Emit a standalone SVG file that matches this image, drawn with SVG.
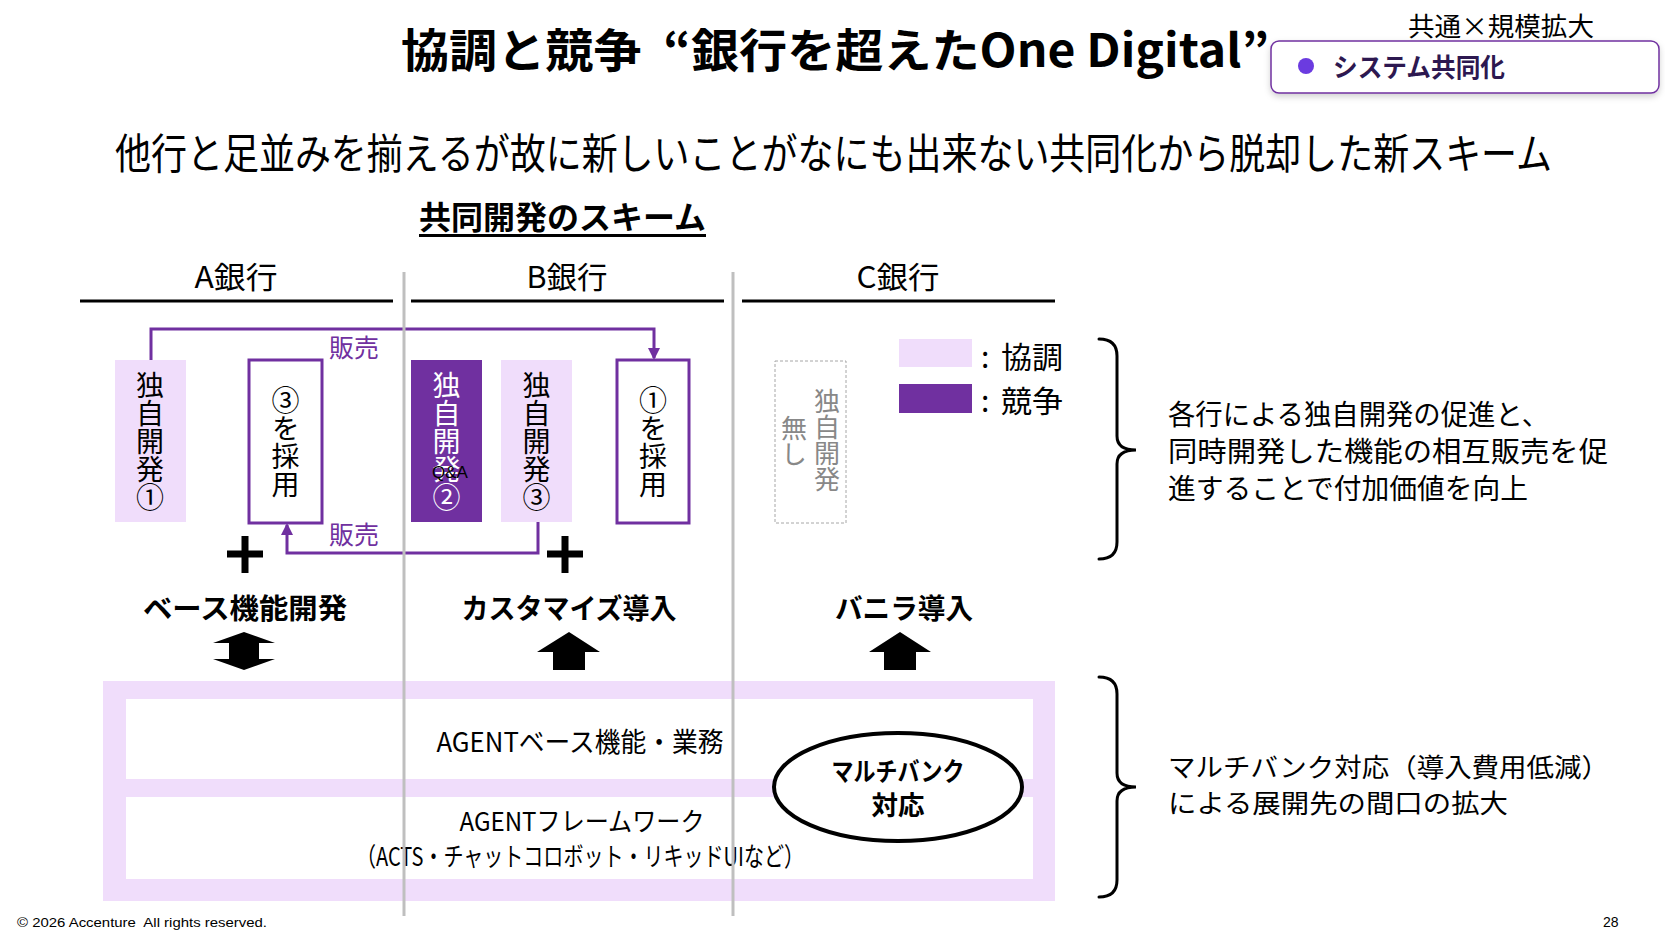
<svg xmlns="http://www.w3.org/2000/svg" width="1665" height="930" viewBox="0 0 1665 930">
<style>
.jp{font-family:"Noto Sans CJK JP","Noto Sans",sans-serif;fill:#000}
.b{font-weight:700}
.c{text-anchor:middle}
.v{writing-mode:vertical-rl;text-anchor:middle;font-size:28px}
.lav{fill:#F0DDFB}
.pur{fill:#7030A0}
.conn{fill:none;stroke:#7030A0;stroke-width:3}
.hdr{stroke:#000;stroke-width:3}
.sep{stroke:#BFBFBF;stroke-width:3}
.brace{fill:none;stroke:#000;stroke-width:3;stroke-linecap:round}
.plus{stroke:#000;stroke-width:7}
</style>
<defs>
<marker id="ah" markerUnits="userSpaceOnUse" markerWidth="12" markerHeight="12" viewBox="0 0 12 12" refX="10" refY="6" orient="auto">
<path d="M0,0 L12,6 L0,12 Z" fill="#7030A0"/>
</marker>
<filter id="sh" x="-5%" y="-20%" width="110%" height="150%">
<feDropShadow dx="0" dy="3" stdDeviation="3" flood-color="#000" flood-opacity="0.18"/>
</filter>
</defs>
<rect width="1665" height="930" fill="#fff"/>

<g id="title">
<text class="jp b" x="401" y="67" font-size="46" textLength="868" lengthAdjust="spacingAndGlyphs">協調と競争&#160; “銀行を超えたOne Digital”</text>
</g>
<g id="tag">
<text class="jp" x="1408" y="36" font-size="26" textLength="186" lengthAdjust="spacingAndGlyphs">共通×規模拡大</text>
<rect x="1271" y="41" width="388" height="52" rx="8" fill="#fff" stroke="#7030A0" stroke-width="1.5" filter="url(#sh)"/>
<circle cx="1306" cy="66" r="8" fill="#6B3BE0"/>
<text class="jp b" x="1333" y="77" font-size="26" textLength="172" lengthAdjust="spacingAndGlyphs" style="fill:#2D1850">システム共同化</text>
</g>
<g id="subtitle">
<g transform="translate(0,169) scale(1,1.2)">
<text class="jp" x="115" y="0" font-size="35" textLength="1437" lengthAdjust="spacingAndGlyphs">他行と足並みを揃えるが故に新しいことがなにも出来ない共同化から脱却した新スキーム</text>
</g>
<text class="jp b" x="419" y="229" font-size="32" textLength="287" lengthAdjust="spacingAndGlyphs">共同開発のスキーム</text>
<rect x="419" y="234" width="287" height="3" fill="#000"/>
</g>

<g id="headers">
<text class="jp c" x="236" y="288" font-size="30" textLength="83" lengthAdjust="spacingAndGlyphs">A銀行</text>
<text class="jp c" x="567" y="288" font-size="30" textLength="81" lengthAdjust="spacingAndGlyphs">B銀行</text>
<text class="jp c" x="898" y="288" font-size="30" textLength="83" lengthAdjust="spacingAndGlyphs">C銀行</text>
<line class="hdr" x1="80" y1="301" x2="393" y2="301"/>
<line class="hdr" x1="411" y1="301" x2="724" y2="301"/>
<line class="hdr" x1="742" y1="301" x2="1055" y2="301"/>
</g>

<g id="a-dev1">
<rect class="lav" x="115" y="360" width="71" height="162"/>
<text class="jp v" x="150" y="441">独自開発①</text>
</g>
<g id="a-adopt3">
<rect x="249" y="360" width="73" height="163" fill="#fff" stroke="#7030A0" stroke-width="3"/>
<text class="jp v" x="285.5" y="442">③を採用</text>
</g>
<g id="b-dev2">
<rect class="pur" x="411" y="360" width="71" height="162"/>
<text class="jp v" x="446.5" y="441" style="fill:#fff">独自開発②</text>
<text x="450" y="478" font-family="Liberation Sans, Arial, sans-serif" font-size="17" text-anchor="middle" fill="#000">Q&amp;A</text>
</g>
<g id="b-dev3">
<rect class="lav" x="501" y="360" width="71" height="162"/>
<text class="jp v" x="536.5" y="441">独自開発③</text>
</g>
<g id="b-adopt1">
<rect x="617" y="360" width="72" height="163" fill="#fff" stroke="#7030A0" stroke-width="3"/>
<text class="jp v" x="653" y="442">①を採用</text>
</g>
<g id="c-none">
<rect x="775" y="361" width="71" height="162" fill="none" stroke="#A6A6A6" stroke-width="1" stroke-dasharray="3,2"/>
<text class="jp v" x="827" y="440" style="fill:#888;font-size:26px">独自開発</text>
<text class="jp v" x="794" y="441" style="fill:#888;font-size:26px">無し</text>
</g>

<g id="legend">
<rect class="lav" x="899" y="339" width="73" height="28"/>
<rect class="pur" x="899" y="384" width="73" height="29"/>
<text class="jp" x="981" y="368" font-size="30">:</text>
<text class="jp" x="1001" y="368" font-size="30" textLength="62" lengthAdjust="spacingAndGlyphs">協調</text>
<text class="jp" x="981" y="412" font-size="30">:</text>
<text class="jp" x="1001" y="412" font-size="30" textLength="62" lengthAdjust="spacingAndGlyphs">競争</text>
</g>

<g id="connectors">
<path class="conn" d="M151,360 V329 H654 V358" marker-end="url(#ah)"/>
<path class="conn" d="M538,522 V553 H287 V525" marker-end="url(#ah)"/>
<text class="jp c" x="354" y="357" font-size="25" style="fill:#7030A0">販売</text>
<text class="jp c" x="354" y="544" font-size="25" style="fill:#7030A0">販売</text>
<path class="plus" d="M227,554 H263 M245,536 V573"/>
<path class="plus" d="M547,554 H583 M565,536 V573"/>
<path d="M244,632 L275,643 L259,643 L259,659 L275,659 L244,670 L213,659 L229,659 L229,643 L213,643 Z" fill="#000"/>
<path d="M569,632 L600,652 L585,652 L585,670 L553,670 L553,652 L537,652 Z" fill="#000"/>
<path d="M900,632 L931,652 L916,652 L916,670 L884,670 L884,652 L869,652 Z" fill="#000"/>
</g>

<g id="labels">
<text class="jp b c" x="245" y="619" font-size="28" textLength="204" lengthAdjust="spacingAndGlyphs">ベース機能開発</text>
<text class="jp b c" x="569" y="619" font-size="28" textLength="215" lengthAdjust="spacingAndGlyphs">カスタマイズ導入</text>
<text class="jp b c" x="904" y="619" font-size="28" textLength="138" lengthAdjust="spacingAndGlyphs">バニラ導入</text>
</g>

<g id="platform">
<rect class="lav" x="103" y="681" width="952" height="220"/>
<rect x="126" y="699" width="907" height="80" fill="#fff"/>
<rect x="126" y="797" width="907" height="82" fill="#fff"/>
<text class="jp c" x="580" y="752" font-size="27" textLength="287" lengthAdjust="spacingAndGlyphs">AGENTベース機能・業務</text>
<text class="jp c" x="582" y="831" font-size="26" textLength="245" lengthAdjust="spacingAndGlyphs">AGENTフレームワーク</text>
<text class="jp c" x="580" y="866" font-size="26" textLength="448" lengthAdjust="spacingAndGlyphs">（ACTS・チャットコロボット・リキッドUIなど）</text>
</g>

<g id="separators">
<line class="sep" x1="404" y1="272" x2="404" y2="916"/>
<line class="sep" x1="733" y1="272" x2="733" y2="916"/>
</g>

<g id="multibank">
<ellipse cx="898" cy="787" rx="124" ry="54" fill="#fff" stroke="#000" stroke-width="4"/>
<text class="jp b c" x="898" y="781" font-size="26" textLength="133" lengthAdjust="spacingAndGlyphs">マルチバンク</text>
<text class="jp b c" x="898" y="815" font-size="26" textLength="53" lengthAdjust="spacingAndGlyphs">対応</text>
</g>

<g id="brace-top">
<path class="brace" d="M1099,339 Q1117,339 1117,356 L1117,436 Q1117,450 1136,450 Q1117,450 1117,464 L1117,542 Q1117,559 1099,559"/>
<text class="jp" x="1168" y="425" font-size="28" textLength="381" lengthAdjust="spacingAndGlyphs">各行による独自開発の促進と、</text>
<text class="jp" x="1168" y="462" font-size="28" textLength="440" lengthAdjust="spacingAndGlyphs">同時開発した機能の相互販売を促</text>
<text class="jp" x="1168" y="499" font-size="28" textLength="360" lengthAdjust="spacingAndGlyphs">進することで付加価値を向上</text>
</g>
<g id="brace-bottom">
<path class="brace" d="M1099,677 Q1117,677 1117,694 L1117,773 Q1117,787 1136,787 Q1117,787 1117,801 L1117,880 Q1117,897 1099,897"/>
<text class="jp" x="1168" y="777" font-size="26" textLength="441" lengthAdjust="spacingAndGlyphs">マルチバンク対応（導入費用低減）</text>
<text class="jp" x="1168" y="813" font-size="26" textLength="340" lengthAdjust="spacingAndGlyphs">による展開先の間口の拡大</text>
</g>

<g id="footer">
<text x="17" y="927" font-family="Liberation Sans, Arial, sans-serif" font-size="13" textLength="250" lengthAdjust="spacingAndGlyphs" fill="#000">© 2026 Accenture&#160; All rights reserved.</text>
<text x="1603" y="927" font-family="Liberation Sans, Arial, sans-serif" font-size="14" fill="#000">28</text>
</g>
</svg>
